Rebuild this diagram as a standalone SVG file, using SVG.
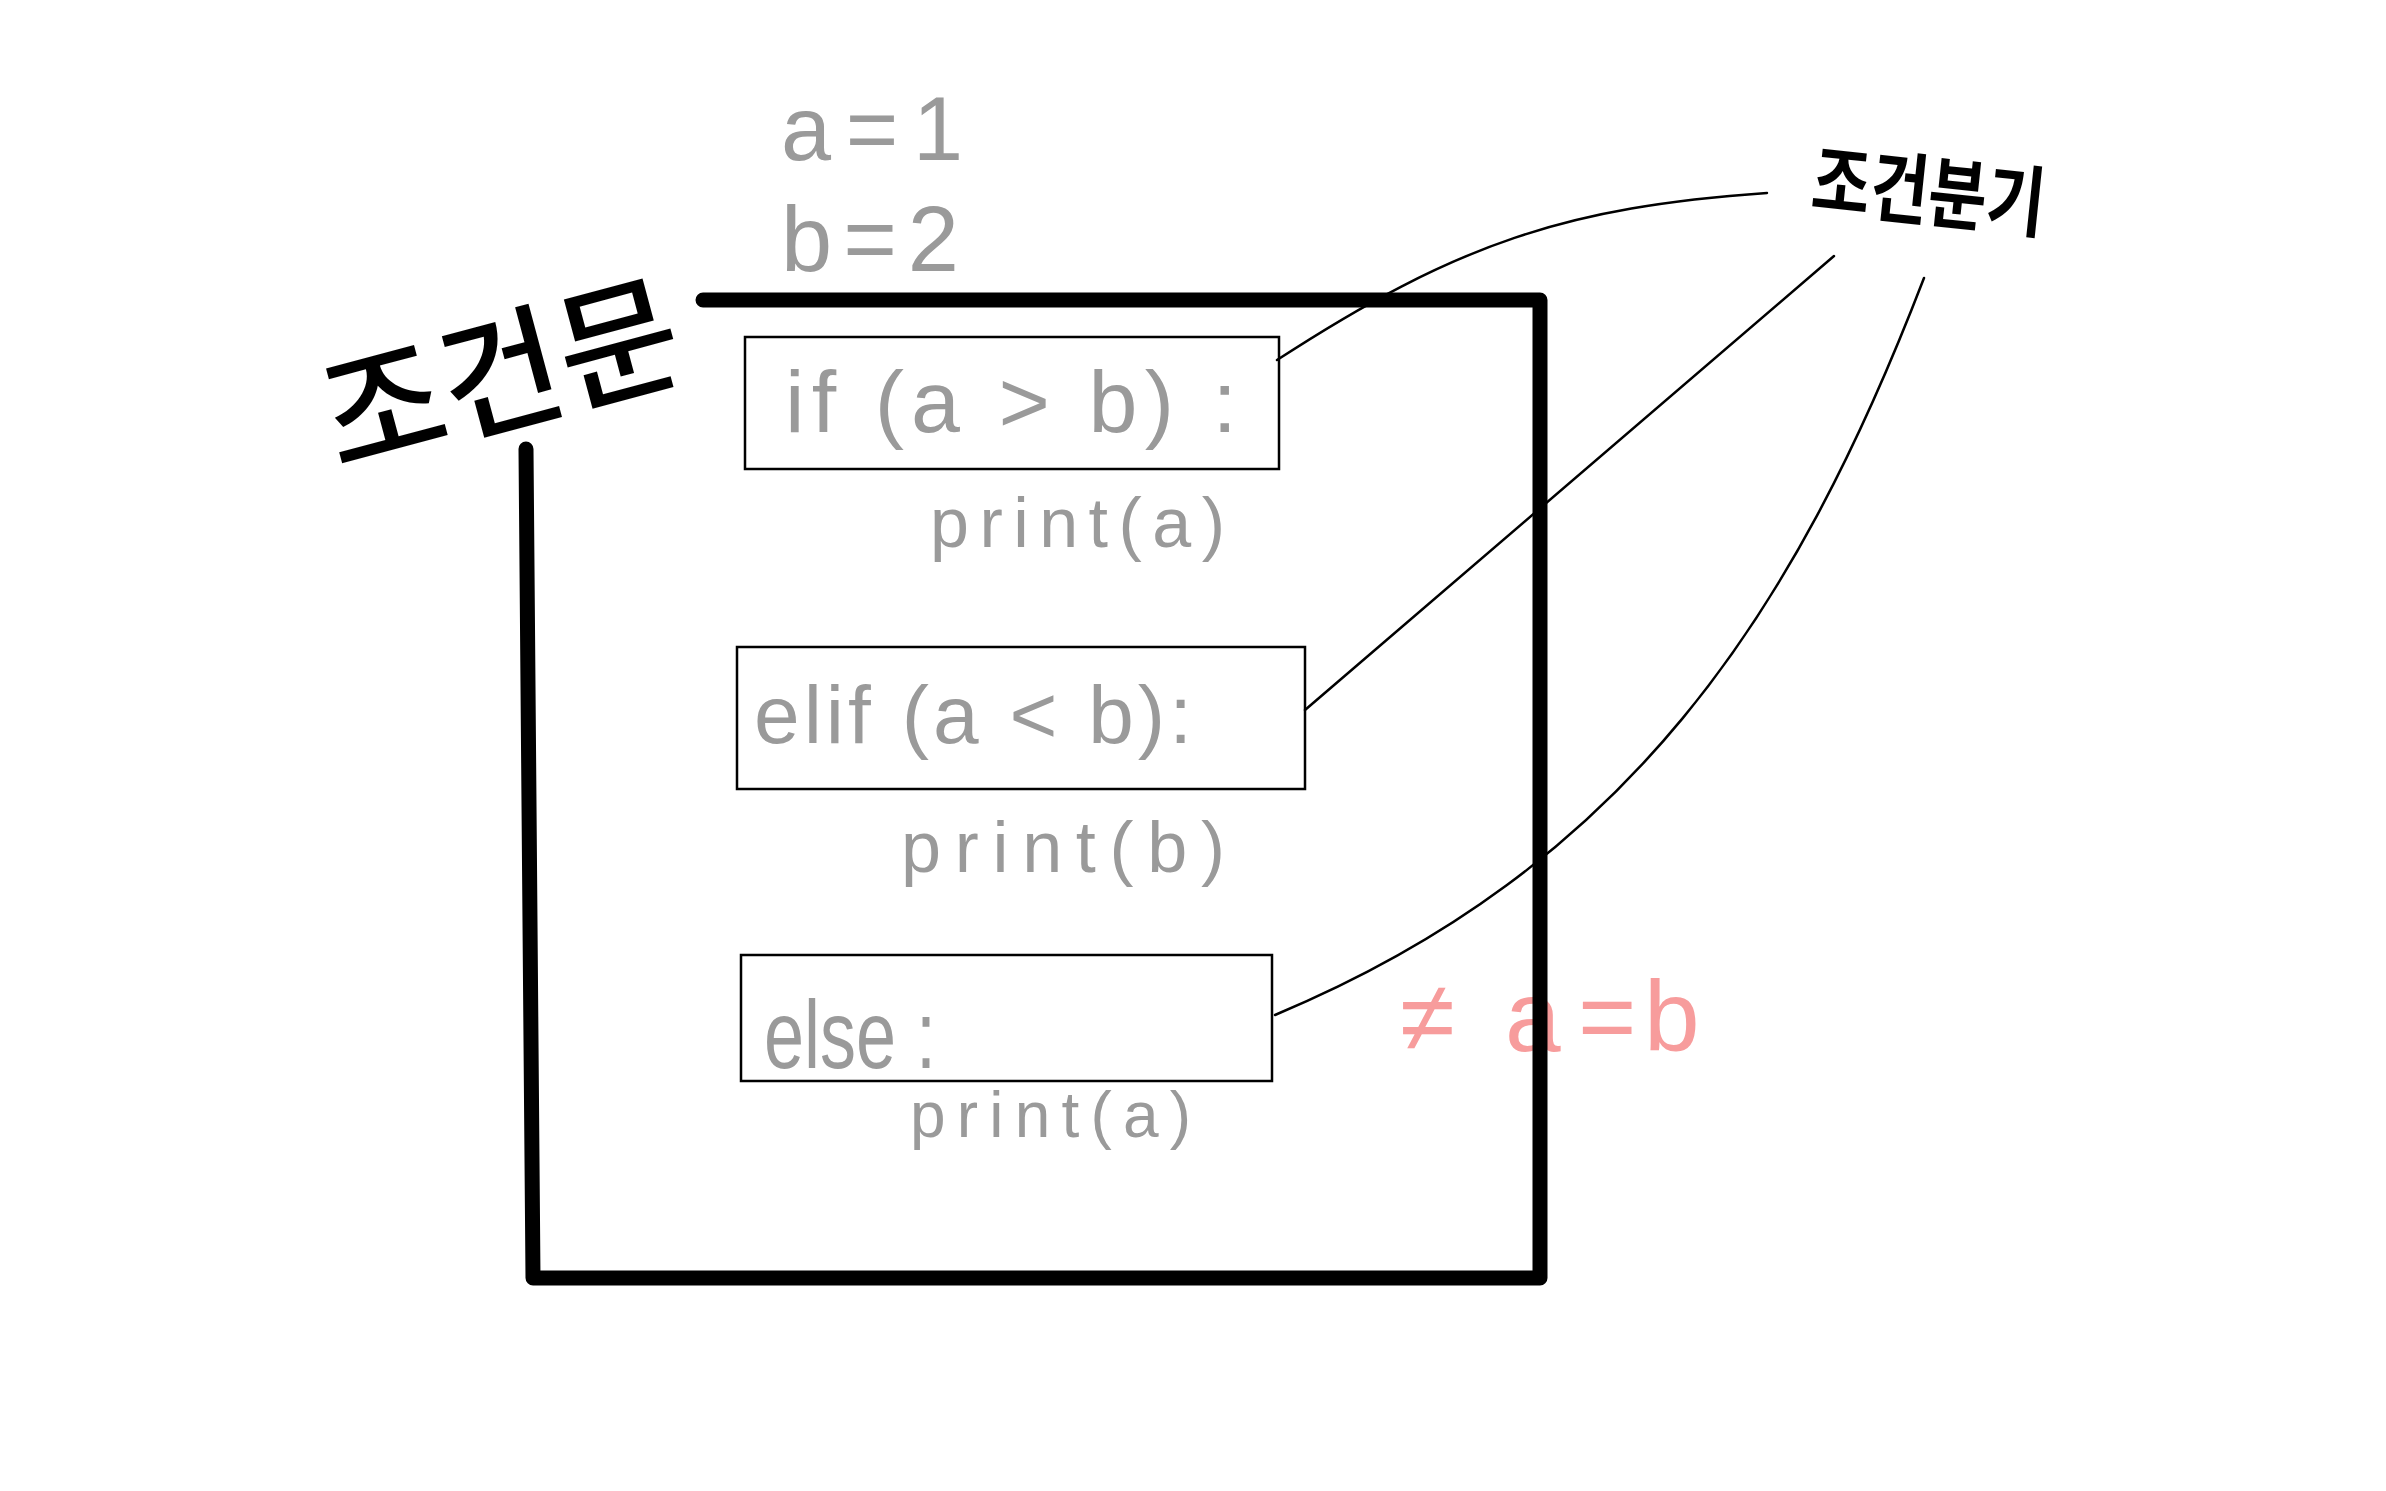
<svg xmlns="http://www.w3.org/2000/svg" width="2386" height="1491" viewBox="0 0 2386 1491">
<style>
.code{font-family:"Liberation Sans","DejaVu Sans",sans-serif;fill:#9a9a9a;}
.pink{font-family:"Liberation Sans","DejaVu Sans",sans-serif;fill:#f79c9c;}
.ko{font-family:"Noto Sans CJK KR","Noto Sans",sans-serif;fill:#000;}
.box{fill:none;stroke:#000;stroke-width:2.5;}
.conn{fill:none;stroke:#000;stroke-width:2.5;stroke-linecap:round;}
.frame{fill:none;stroke:#000;stroke-width:15;stroke-linecap:round;stroke-linejoin:round;}
</style>
<rect width="2386" height="1491" fill="#fff"/>
<g id="vars">
<text class="code" x="781" y="160" font-size="90" textLength="182" lengthAdjust="spacing">a = 1</text>
<text class="code" x="781" y="271" font-size="92" textLength="178" lengthAdjust="spacing">b = 2</text>
</g>
<g id="note">
<text class="pink" x="1400 1470 1505 1570 1578 1630 1644" y="1051" font-size="100">≠ a = b</text>
</g>
<g id="frame">
<path class="frame" d="M703,300 L1540,300 L1540,1278 L533,1278 L526,449"/>
</g>
<g id="label-main">
<text class="ko" x="500" y="423" font-size="132" font-weight="500" text-anchor="middle" transform="rotate(-15 500 372)">조건문</text>
</g>
<g id="label-branch">
<text class="ko" x="1929" y="220" font-size="78" font-weight="700" text-anchor="middle" textLength="234" lengthAdjust="spacingAndGlyphs" transform="rotate(6 1929 190)">조건분기</text>
</g>
<g id="node-if">
<rect class="box" x="745" y="337" width="534" height="132"/>
<text class="code" x="785" y="432" font-size="88" textLength="452" lengthAdjust="spacing">if (a &gt; b) :</text>
<text class="code" x="930" y="547" font-size="70" textLength="295" lengthAdjust="spacing">print(a)</text>
</g>
<g id="node-elif">
<rect class="box" x="737" y="647" width="568" height="142"/>
<text class="code" x="754" y="743" font-size="82" textLength="438" lengthAdjust="spacing">elif (a &lt; b):</text>
<text class="code" x="901" y="872" font-size="72" textLength="324" lengthAdjust="spacing">print(b)</text>
</g>
<g id="node-else">
<rect class="box" x="741" y="955" width="531" height="126"/>
<text class="code" x="764" y="1068" font-size="96" textLength="172" lengthAdjust="spacingAndGlyphs">else :</text>
<text class="code" x="910" y="1137" font-size="64" textLength="281" lengthAdjust="spacing">print(a)</text>
</g>
<g id="connectors">
<path class="conn" d="M1277,360 C1457,243 1567,207 1767,193"/>
<path class="conn" d="M1305,710 L1834,256"/>
<path class="conn" d="M1275,1015 C1627,868 1794,616 1924,278"/>
</g>
</svg>
